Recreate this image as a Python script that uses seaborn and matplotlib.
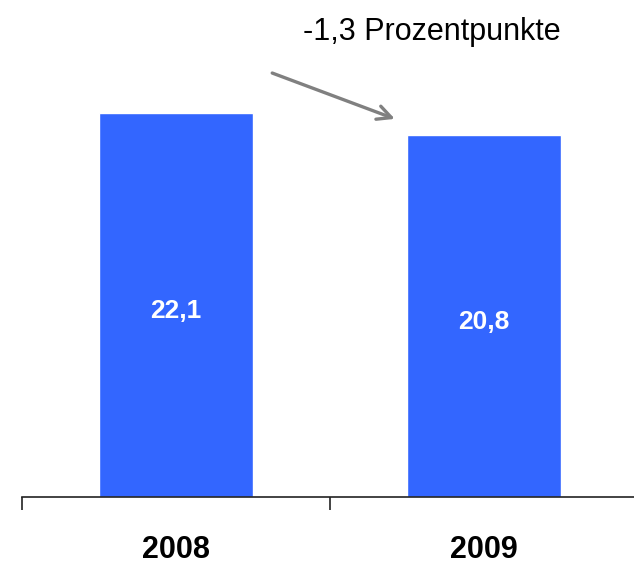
import numpy as np
import pandas as pd
import matplotlib
matplotlib.use('Agg')
import matplotlib.pyplot as plt
import seaborn as sns

# ── Data ─────────────────────────────────────────────
years = ['2008', '2009']
values = [22.1, 20.8]
value_labels = ['22,1', '20,8']
change_label = '-1,3 Prozentpunkte'

BAR_COLOR = '#3366FF'

sns.set_style('white')
plt.rcParams['font.family'] = ['Liberation Sans', 'DejaVu Sans']

df = pd.DataFrame({'year': years, 'value': values})

fig = plt.figure(figsize=(6.34, 5.65), dpi=100)
ax = fig.add_axes([22 / 634, 68 / 565, 616 / 634, 434.5 / 565])

sns.barplot(data=df, x='year', y='value', color=BAR_COLOR, width=0.5,
            saturation=1, ax=ax)

ax.set_xlim(-0.5, 1.5)
ax.set_ylim(0, 25)

# value labels inside bars
for i, (v, lab) in enumerate(zip(values, value_labels)):
    ax.text(i, v * 0.485, lab, ha='center', va='center', color='white',
            fontsize=19, fontweight='bold')

# axis styling
for s in ['top', 'right', 'left']:
    ax.spines[s].set_visible(False)
ax.spines['bottom'].set_color('#222222')
ax.spines['bottom'].set_linewidth(1.2)
ax.set_yticks([])
ax.set_xlabel('')
ax.set_ylabel('')
ax.set_xticks([0, 1])
ax.set_xticklabels(years, fontsize=22, fontweight='bold', color='black')
ax.tick_params(axis='x', which='major', length=0, pad=27)
ax.set_xticks([-0.5, 0.5, 1.5], minor=True)
ax.tick_params(axis='x', which='minor', length=9.5, width=1.2,
               color='#222222', direction='out', bottom=True)

# change annotation
ax.annotate('', xy=(0.719, 21.7), xytext=(0.304, 24.45),
            arrowprops=dict(arrowstyle='->,head_length=1.0,head_width=0.5',
                            color='#808080', lw=2.4),
            annotation_clip=False)
ax.text(0.83, 26.75, change_label, ha='center', va='center', fontsize=22,
        color='black', clip_on=False)

fig.savefig('out.png', dpi=100)
